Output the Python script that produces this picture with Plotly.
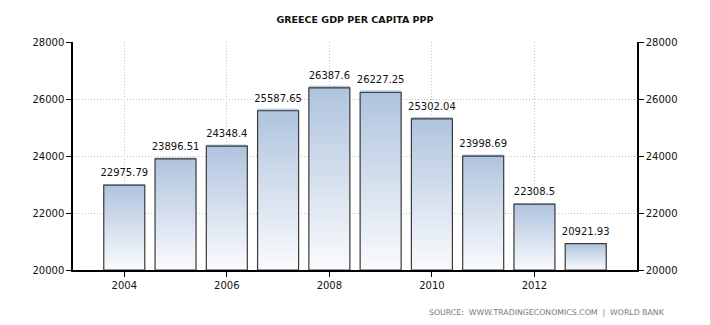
import plotly.graph_objects as go

years = [2004, 2005, 2006, 2007, 2008, 2009, 2010, 2011, 2012, 2013]
values = [22975.79, 23896.51, 24348.4, 25587.65, 26387.6, 26227.25, 25302.04, 23998.69, 22308.5, 20921.93]
labels = ["22975.79", "23896.51", "24348.4", "25587.65", "26387.6", "26227.25", "25302.04", "23998.69", "22308.5", "20921.93"]
y_ticks = [20000, 22000, 24000, 26000, 28000]
y_ticktext = ["20000", "22000", "24000", "26000", "28000"]
x_ticks = [2004, 2006, 2008, 2010, 2012]

BASE = 20000
N = 40
top_rgb = (176, 196, 222)
bot_rgb = (250, 251, 253)

fig = go.Figure()
for k in range(N):
    t = (k + 0.5) / N  # 0 bottom -> 1 top
    c = tuple(round(bot_rgb[i] + (top_rgb[i] - bot_rgb[i]) * t) for i in range(3))
    seg = [(v - BASE) / N for v in values]
    mult = 2.5 if k < N - 1 else 1.0
    fig.add_trace(go.Bar(
        x=years, y=[s * mult for s in seg], base=[BASE + k * s for s in seg],
        marker=dict(color=f"rgb{c}", line=dict(width=0)),
        width=0.8, showlegend=False, hoverinfo="skip",
    ))

fig.add_trace(go.Bar(
    x=years, y=[v - BASE for v in values], base=[BASE] * len(values),
    marker=dict(color="rgba(0,0,0,0)", line=dict(color="#3a3a3a", width=1.2)),
    width=0.8, showlegend=False,
))
fig.add_trace(go.Scatter(
    x=years, y=values, mode="markers+text", text=labels, textposition="top center",
    marker=dict(size=9, opacity=0),
    textfont=dict(family="DejaVu Sans", size=10, color="#111"),
    showlegend=False, hoverinfo="skip", cliponaxis=False,
))
# invisible trace for right axis
fig.add_trace(go.Scatter(x=[years[0]], y=[BASE], yaxis="y2", mode="markers",
                         marker=dict(opacity=0), showlegend=False, hoverinfo="skip"))

grid = dict(showgrid=True, gridcolor="#c4c4c4", griddash="1px,2px", gridwidth=1)
tickfont = dict(family="DejaVu Sans", size=10, color="#111")

fig.update_layout(
    width=710, height=325,
    margin=dict(l=73, r=73, t=42, b=55),
    paper_bgcolor="white", plot_bgcolor="white",
    barmode="overlay",
    title=dict(text="GREECE GDP PER CAPITA PPP", x=0.5, xanchor="center", y=0.94, yanchor="middle",
               font=dict(family="DejaVu Sans", size=9.5, color="#111", weight="bold")),
    xaxis=dict(range=[2003, 2014], tickvals=x_ticks, ticks="outside", ticklen=5, tickcolor="black",
               showline=True, linecolor="black", linewidth=1.5, tickfont=tickfont, zeroline=False, **grid),
    yaxis=dict(range=[20000, 28000], tickvals=y_ticks, ticktext=y_ticktext, ticks="outside", ticklen=5,
               tickcolor="black", showline=True, linecolor="black", linewidth=1.5,
               tickfont=tickfont, zeroline=False, **grid),
    yaxis2=dict(range=[20000, 28000], tickvals=y_ticks, ticktext=y_ticktext, ticks="outside", ticklen=5,
                tickcolor="black", overlaying="y", side="right", showline=True, linecolor="black",
                linewidth=1.5, showgrid=False, zeroline=False, tickfont=tickfont),
    annotations=[dict(text="SOURCE:  WWW.TRADINGECONOMICS.COM  |  WORLD BANK", xref="paper", yref="paper",
                      x=1.053, y=-0.16, xanchor="right", yanchor="top", showarrow=False,
                      font=dict(family="DejaVu Sans", size=7.8, color="#777"))],
)

fig.write_html("out.html")
